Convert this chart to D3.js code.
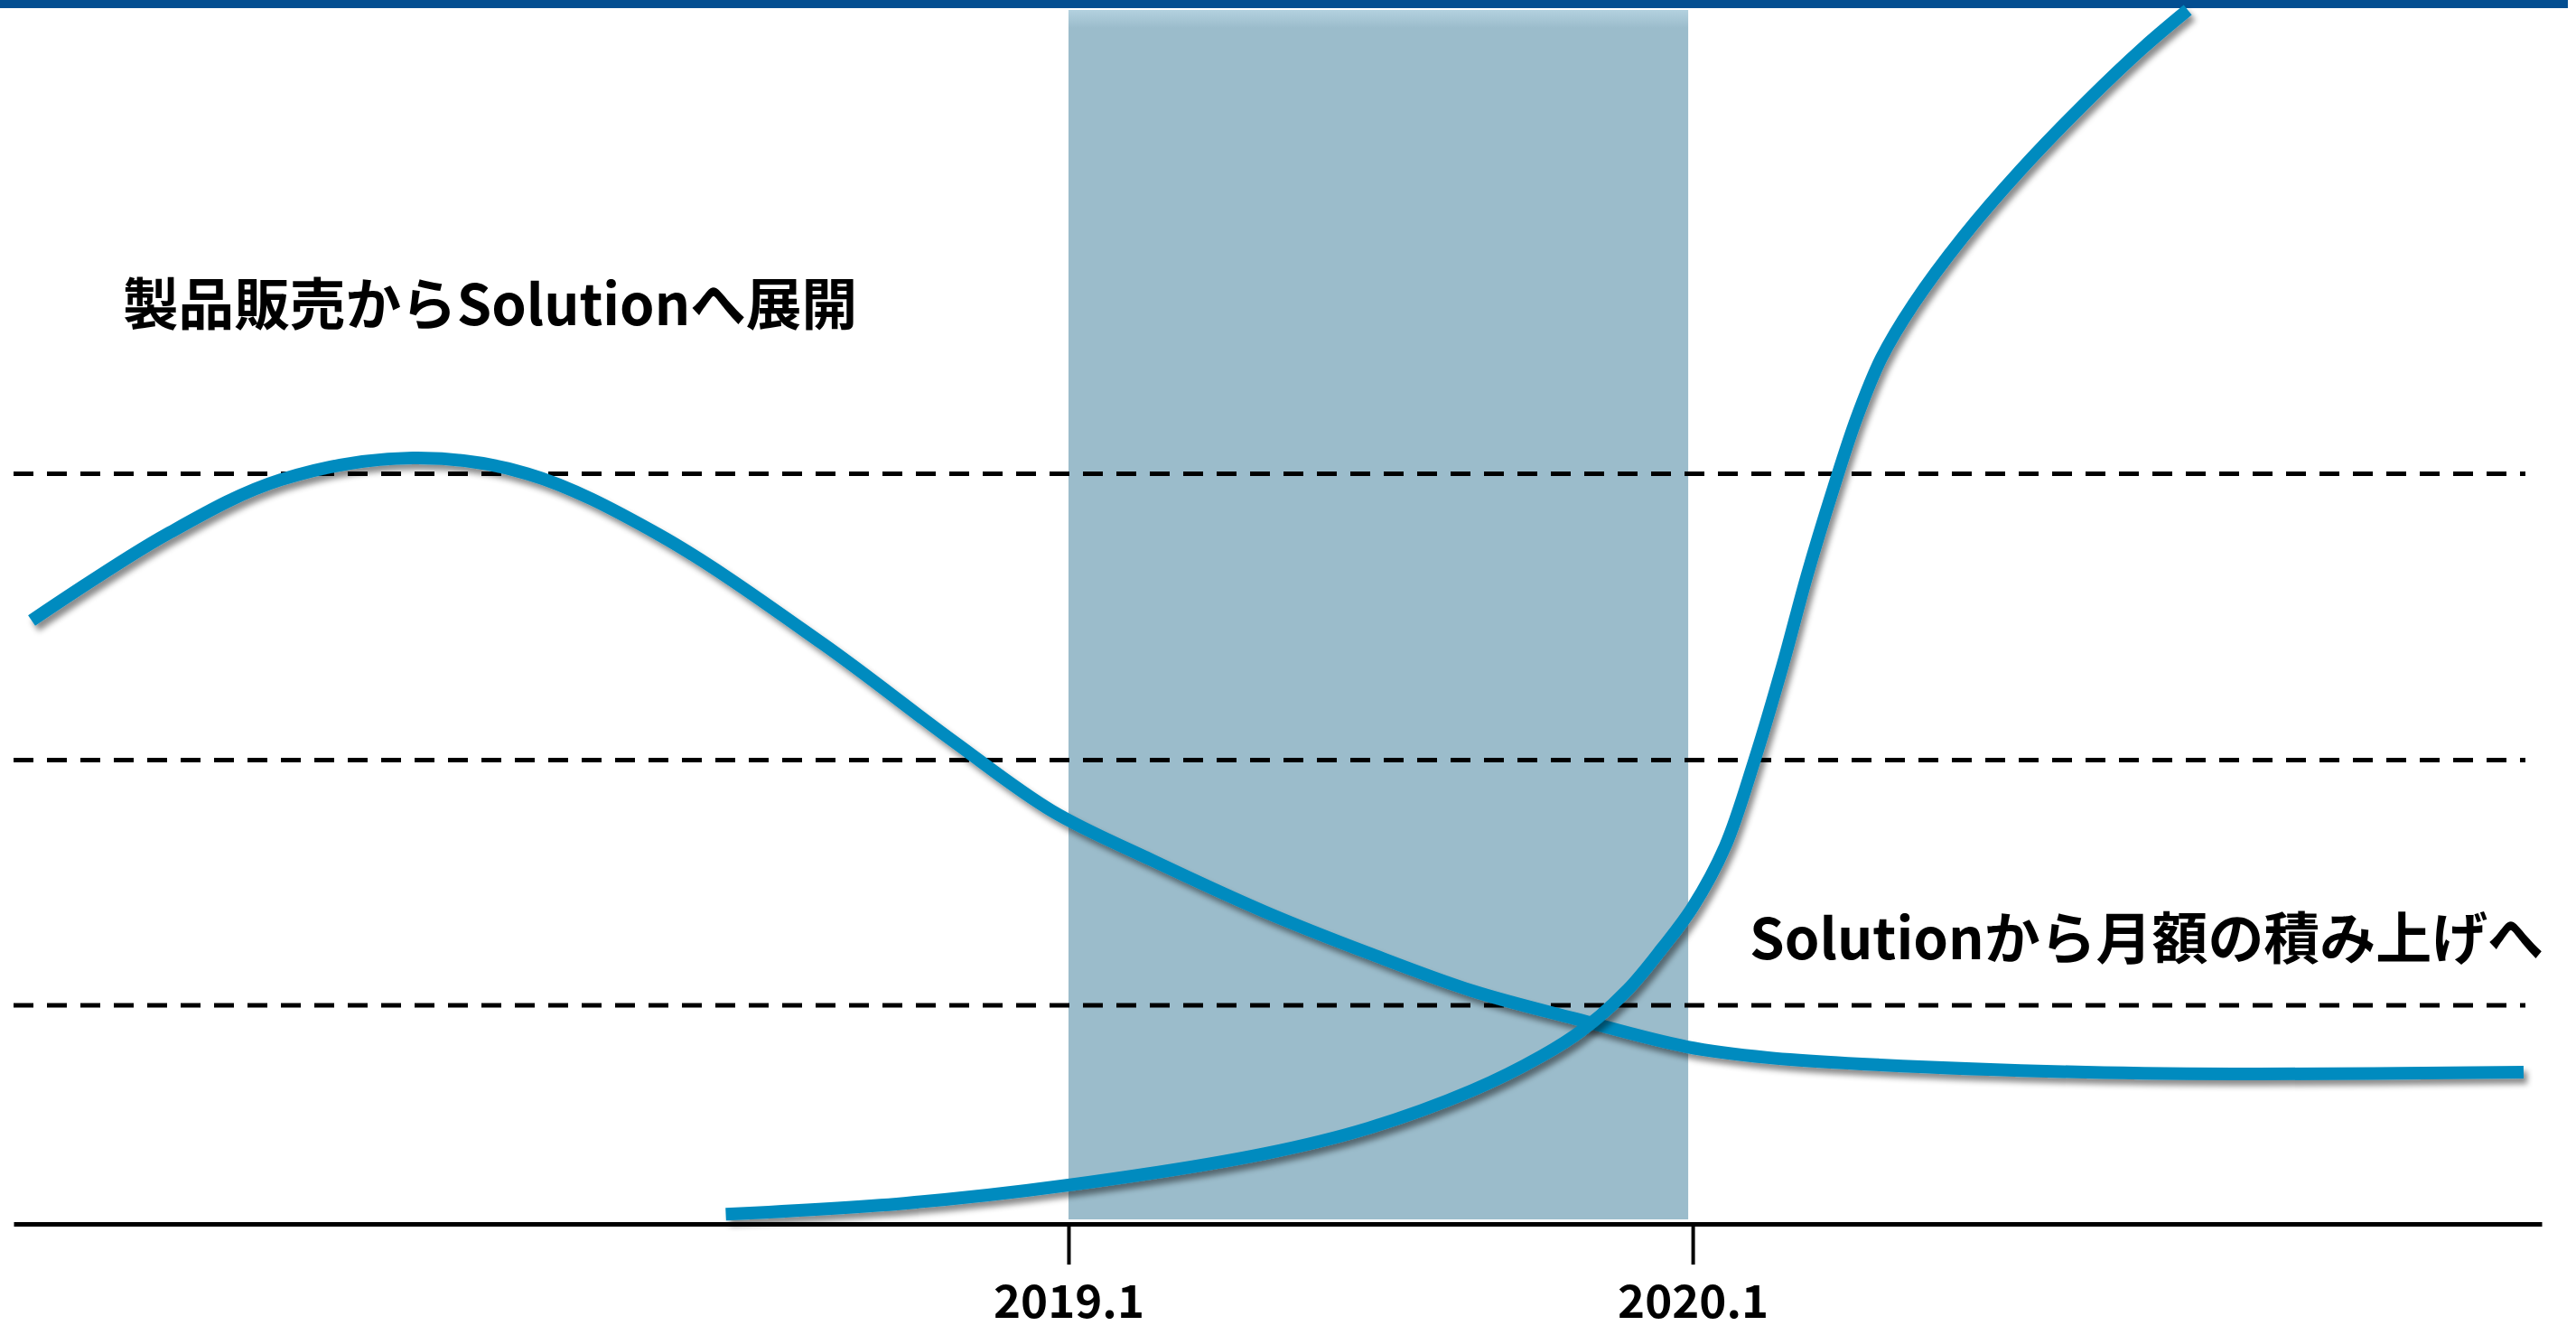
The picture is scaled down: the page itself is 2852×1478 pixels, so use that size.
<!DOCTYPE html>
<html>
<head>
<meta charset="utf-8">
<script src="https://cdn.jsdelivr.net/npm/d3@7"></script>
<style>
  html, body { margin: 0; padding: 0; background: #fff; }
  svg { display: block; }
  text { font-family: "Noto Sans CJK JP", "Noto Sans", sans-serif; font-weight: 700; fill: #000; }
</style>
</head>
<body>
<svg width="2852" height="1478"></svg>
<script>
// x = year (2019.0 = "2019.1"), y = relative level 0..100
var tickYears = [2019, 2020];
var tickLabels = ["2019.1", "2020.1"];
var bandYears = [2019, 2020];
var gridLevels = [18.0, 38.2, 61.8];

// product sales curve
var salesX = [2017.339, 2017.555, 2017.738, 2017.949, 2018.133, 2018.343, 2018.606, 2018.817, 2018.974,
              2019.132, 2019.315, 2019.481, 2019.647, 2019.812, 2019.990, 2020.120, 2020.300, 2020.630,
              2020.906, 2021.331];
var salesY = [49.7, 56.8, 61.3, 63.1, 61.8, 56.8, 47.8, 39.7, 34.0,
              30.0, 25.7, 22.3, 19.2, 16.9, 14.6, 13.7, 13.1, 12.5,
              12.35, 12.5];

// monthly solution curve
var solutionX = [2018.451, 2018.737, 2019.0, 2019.315, 2019.481, 2019.647, 2019.757, 2019.824, 2019.896,
                 2019.951, 2020.0, 2020.052, 2020.099, 2020.144, 2020.183, 2020.223, 2020.262, 2020.302,
                 2020.354, 2020.433, 2020.525, 2020.630, 2020.722, 2020.793];
var solutionY = [0.8, 1.7, 3.2, 5.8, 7.9, 11.0, 13.8, 16.0, 19.3,
                 22.7, 26.1, 31.1, 38.2, 46.0, 53.4, 60.2, 66.3, 71.3,
                 75.8, 81.3, 86.8, 92.4, 96.9, 100.0];

var labelTop = "製品販売からSolutionへ展開";
var labelRight = "Solutionから月額の積み上げへ";

var svg = d3.select("svg");

var x = d3.scaleLinear().domain([2017.31, 2021.36]).range([15, 2814]);
var y = d3.scaleLinear().domain([0, 100]).range([1355, 11]);

// shadow for the curves
var defs = svg.append("defs");
defs.append("filter")
    .attr("id", "shadow")
    .attr("x", "-5%").attr("y", "-5%").attr("width", "110%").attr("height", "110%")
    .append("feDropShadow")
    .attr("dx", 4).attr("dy", 6)
    .attr("stdDeviation", 3)
    .attr("flood-color", "#000")
    .attr("flood-opacity", 0.45);

var bandGrad = defs.append("linearGradient")
    .attr("id", "bandGrad")
    .attr("x1", 0).attr("y1", 0).attr("x2", 0).attr("y2", 1);
bandGrad.append("stop").attr("offset", "0%").attr("stop-color", "#b3d1df");
bandGrad.append("stop").attr("offset", "1.5%").attr("stop-color", "#9bbccb");
bandGrad.append("stop").attr("offset", "100%").attr("stop-color", "#9bbccb");

// top bar
svg.append("rect")
    .attr("x", 0).attr("y", 0)
    .attr("width", 2843).attr("height", 9)
    .style("fill", "#034e91");

// shaded period
svg.append("rect")
    .attr("x", x(bandYears[0]))
    .attr("y", y(100))
    .attr("width", x(bandYears[1]) - x(bandYears[0]) - 5)
    .attr("height", y(0) - y(100) - 5)
    .style("fill", "url(#bandGrad)");

// dashed grid lines
svg.selectAll("line.grid")
    .data(gridLevels)
    .enter()
    .append("line")
    .attr("class", "grid")
    .attr("x1", x.range()[0])
    .attr("x2", x.range()[1] - 18)
    .attr("y1", function (d) { return y(d); })
    .attr("y2", function (d) { return y(d); })
    .style("stroke", "#000")
    .style("stroke-width", 5)
    .style("stroke-dasharray", "22 15");

// x axis
var axis = svg.append("g")
    .attr("transform", "translate(0," + y(0) + ")")
    .call(d3.axisBottom(x)
        .tickValues(tickYears)
        .tickSize(45)
        .tickSizeOuter(0)
        .tickFormat(function (d, i) { return tickLabels[i]; }));

axis.select(".domain")
    .style("stroke", "#000")
    .style("stroke-width", 5);
axis.selectAll(".tick line")
    .style("stroke", "#000")
    .style("stroke-width", 4);
axis.selectAll(".tick text")
    .attr("y", 104)
    .attr("dy", 0)
    .attr("font-size", 50)
    .attr("textLength", 167)
    .attr("lengthAdjust", "spacingAndGlyphs")
    .style("font-family", "\"Noto Sans CJK JP\", sans-serif")
    .style("font-weight", 700)
    .style("fill", "#000");

// curves
var line = d3.line()
    .x(function (d) { return x(d[0]); })
    .y(function (d) { return y(d[1]); })
    .curve(d3.curveCatmullRom.alpha(0.5));

var series = [d3.zip(salesX, salesY), d3.zip(solutionX, solutionY)];

svg.selectAll("path.curve")
    .data(series)
    .enter()
    .append("path")
    .attr("class", "curve")
    .attr("d", line)
    .attr("filter", "url(#shadow)")
    .style("fill", "none")
    .style("stroke", "#058bbf")
    .style("stroke-width", 14);

// annotations
svg.append("text")
    .attr("x", 136)
    .attr("y", 333)
    .attr("dominant-baseline", "central")
    .attr("font-size", 62)
    .attr("textLength", 813)
    .attr("lengthAdjust", "spacingAndGlyphs")
    .text(labelTop);

svg.append("text")
    .attr("x", 1937)
    .attr("y", 1035)
    .attr("dominant-baseline", "central")
    .attr("font-size", 62)
    .attr("textLength", 879)
    .attr("lengthAdjust", "spacingAndGlyphs")
    .text(labelRight);
</script>
</body>
</html>
